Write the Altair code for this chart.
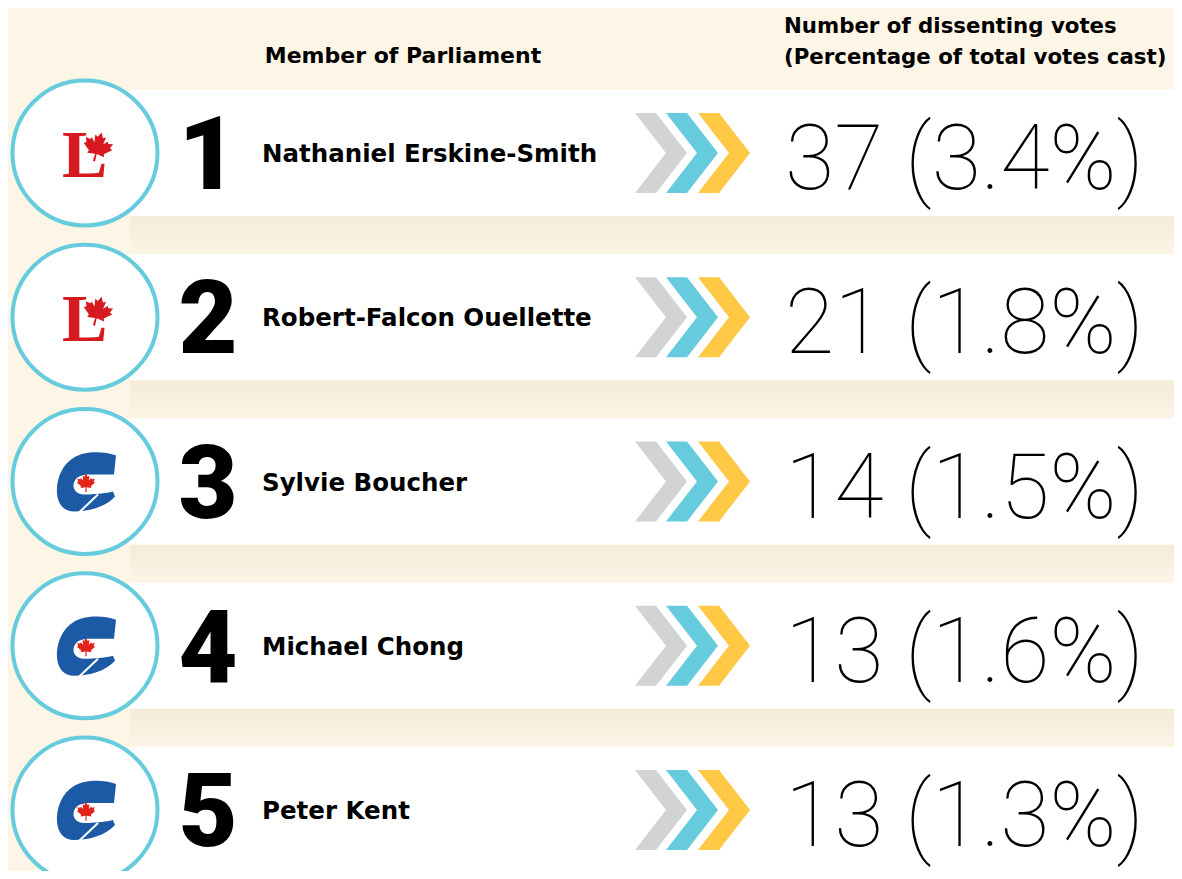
import math
import altair as alt
import pandas as pd

# ---------------- data ----------------
ranks = [1, 2, 3, 4, 5]
names = ["Nathaniel Erskine-Smith", "Robert-Falcon Ouellette", "Sylvie Boucher",
         "Michael Chong", "Peter Kent"]
dissenting_votes = [37, 21, 14, 13, 13]
pct_of_votes = [3.4, 1.8, 1.5, 1.6, 1.3]
parties = ["Liberal", "Liberal", "Conservative", "Conservative", "Conservative"]
header_left = ["Member of Parliament"]
header_right = ["Number of dissenting votes\n(Percentage of total votes cast)"]
chevron_colors = ["#D1D3D4", "#66CCDD", "#FFC845"]

df = pd.DataFrame({"rank": ranks, "name": names, "votes": dissenting_votes,
                   "pct": pct_of_votes, "party": parties})

# ---------------- layout ----------------
W, H = 1166, 863
M = 8            # page margin
ROW = 164.25     # row pitch (px)
FIRST = 153 - M  # first row centre inside the chart
HALF = 63        # half height of white band

r_top = 1 - FIRST / ROW
r_bot = 1 + (H - FIRST) / ROW
yscale = alt.Scale(domain=[r_bot, r_top], nice=False, zero=False)


def X(px):
    return alt.value(px - M)


def Yf(field):
    return alt.Y(f"{field}:Q", scale=yscale, axis=None)


Y = Yf("rank")

CIRCLE_X = 85
BG = "#FDF6E7"
CYAN = "#66CCDD"
RED = "#D71920"
BLUE = "#1C5AA6"
TXT_FONT = "DejaVu Sans"


def poly_path(pts, scale, ox, oy, rot=0.0):
    c, s = math.cos(math.radians(rot)), math.sin(math.radians(rot))
    out = []
    for i, (x, y) in enumerate(pts):
        x, y = x * scale, y * scale
        xr, yr = x * c - y * s, x * s + y * c
        out.append(("M" if i == 0 else "L") + f"{xr + ox:.2f},{yr + oy:.2f}")
    return "".join(out) + "Z"


leaf_pts = [(0, -1.0), (0.17, -0.68), (0.35, -0.78), (0.28, -0.30), (0.52, -0.56),
            (0.58, -0.42), (0.88, -0.48), (0.76, -0.18), (0.92, -0.10), (0.48, 0.28),
            (0.55, 0.45), (0.05, 0.38), (0.07, 0.85), (-0.07, 0.85), (-0.05, 0.38),
            (-0.55, 0.45), (-0.48, 0.28), (-0.92, -0.10), (-0.76, -0.18), (-0.88, -0.48),
            (-0.58, -0.42), (-0.52, -0.56), (-0.28, -0.30), (-0.35, -0.78), (-0.17, -0.68)]

lib_leaf = poly_path(leaf_pts, 16, 12.5, -5, rot=15)
con_leaf = poly_path(leaf_pts, 10, 1, 2)


def cmd_path(cmds, ox, oy):
    out = []
    for k, pts in cmds:
        out.append(k + " ".join(f"{x + ox:.2f},{y + oy:.2f}" for x, y in pts))
    return "".join(out) + "Z"


c_cmds = [
    ("M", [(30, -27)]),
    ("C", [(16, -32), (-2, -31), (-12, -25)]),
    ("C", [(-24, -18), (-30, -3), (-29, 11)]),
    ("C", [(-28, 22), (-22, 29), (-12, 29)]),
    ("C", [(4, 29), (20, 24), (29, 14)]),
    ("L", [(27, 9)]),
    ("C", [(20, 11), (8, 12), (-2, 12)]),
    ("C", [(-10, 12), (-14, 6), (-12, 0)]),
    ("C", [(-10, -6), (-4, -8), (4, -8)]),
    ("L", [(28, -8)]),
]
con_c = cmd_path(c_cmds, 1, 1)
con_cut = "M-6,31L13,13"

chevron = "M-26,-40L-5,-40L26,0L-5,40L-26,40L5,0Z"
chevron_x = [661, 692, 724]

base = alt.Chart(df).transform_calculate(
    band_top=f"datum.rank - {HALF / ROW}",
    band_bot=f"datum.rank + {HALF / ROW}",
    shadow_bot=f"datum.rank + {(ROW - HALF) / ROW}",
    label="datum.votes + ' (' + format(datum.pct, '.1f') + '%)'",
)

shadow = base.mark_rect(
    color=alt.LinearGradient(
        gradient="linear",
        stops=[alt.GradientStop(color="#F4EBD9", offset=0),
               alt.GradientStop(color="#FCF5E5", offset=1)],
        x1=0, x2=0, y1=0, y2=1),
).encode(x=X(130), x2=X(1190), y=Yf("band_bot"), y2="shadow_bot:Q")

band = base.mark_rect(color="white").encode(
    x=X(130), x2=X(1176), y=Yf("band_top"), y2="band_bot:Q")

circle = base.mark_point(shape="circle", size=145 ** 2, filled=True, fill="white",
                         stroke=CYAN, strokeWidth=4, opacity=1).encode(x=X(CIRCLE_X), y=Y)

lib = base.transform_filter("datum.party == 'Liberal'")
con = base.transform_filter("datum.party == 'Conservative'")

lib_L = lib.mark_text(text="L", font="Liberation Serif", fontWeight="bold", fontSize=68,
                      color=RED, align="left", baseline="alphabetic", dy=24).encode(
    x=X(62), y=Y)
lib_leaf_m = lib.mark_point(shape=lib_leaf, size=4, filled=True, color=RED, opacity=1,
                            strokeWidth=0).encode(x=X(CIRCLE_X), y=Y)

con_c_m = con.mark_point(shape=con_c, size=4, filled=True, color=BLUE, opacity=1,
                         strokeWidth=0).encode(x=X(CIRCLE_X), y=Y)
con_cut_m = con.mark_point(shape=con_cut, size=4, filled=False, color="white", opacity=1,
                           strokeWidth=2).encode(x=X(CIRCLE_X), y=Y)
con_leaf_m = con.mark_point(shape=con_leaf, size=4, filled=True, color="#E2231A", opacity=1,
                            strokeWidth=0).encode(x=X(CIRCLE_X), y=Y)

chevs = [base.mark_point(shape=chevron, size=4, filled=True, color=col, opacity=1,
                         strokeWidth=0).encode(x=X(cx), y=Y)
         for col, cx in zip(chevron_colors, chevron_x)]

rank_txt = base.mark_text(font="Roboto", fontWeight=900, fontSize=102, color="black",
                          align="center", baseline="alphabetic", dy=36).encode(
    x=X(208), y=Y, text="rank:N")

name_txt = base.mark_text(font=TXT_FONT, fontWeight="bold", fontSize=24.5, color="black",
                          align="left", baseline="alphabetic", dy=9).encode(
    x=X(262), y=Y, text="name:N")

value_txt = base.mark_text(font="Roboto", fontWeight=100, fontSize=90, color="black",
                           align="right", baseline="alphabetic", dy=36).encode(
    x=X(1144), y=Y, text="label:N")

hdr_l = alt.Chart(pd.DataFrame({"t": header_left})).mark_text(
    font=TXT_FONT, fontWeight="bold", fontSize=22, color="black", align="center",
    baseline="alphabetic").encode(x=X(403), y=alt.value(63 - M), text="t:N")

hdr_r = alt.Chart(pd.DataFrame({"t": header_right})).mark_text(
    font=TXT_FONT, fontWeight="bold", fontSize=21.3, color="black", align="left",
    baseline="alphabetic", lineBreak="\n", lineHeight=31).encode(
    x=X(784), y=alt.value(33 - M), text="t:N")

chart = alt.layer(
    shadow, band, circle, lib_L, lib_leaf_m, con_c_m, con_cut_m, con_leaf_m,
    *chevs, rank_txt, name_txt, value_txt, hdr_l, hdr_r,
).properties(
    width=W, height=H, background=BG, padding=0,
    autosize=alt.AutoSizeParams(type="none"),
).configure_view(strokeWidth=0)

chart.save("out.html", embed_options={"renderer": "svg", "actions": False})
